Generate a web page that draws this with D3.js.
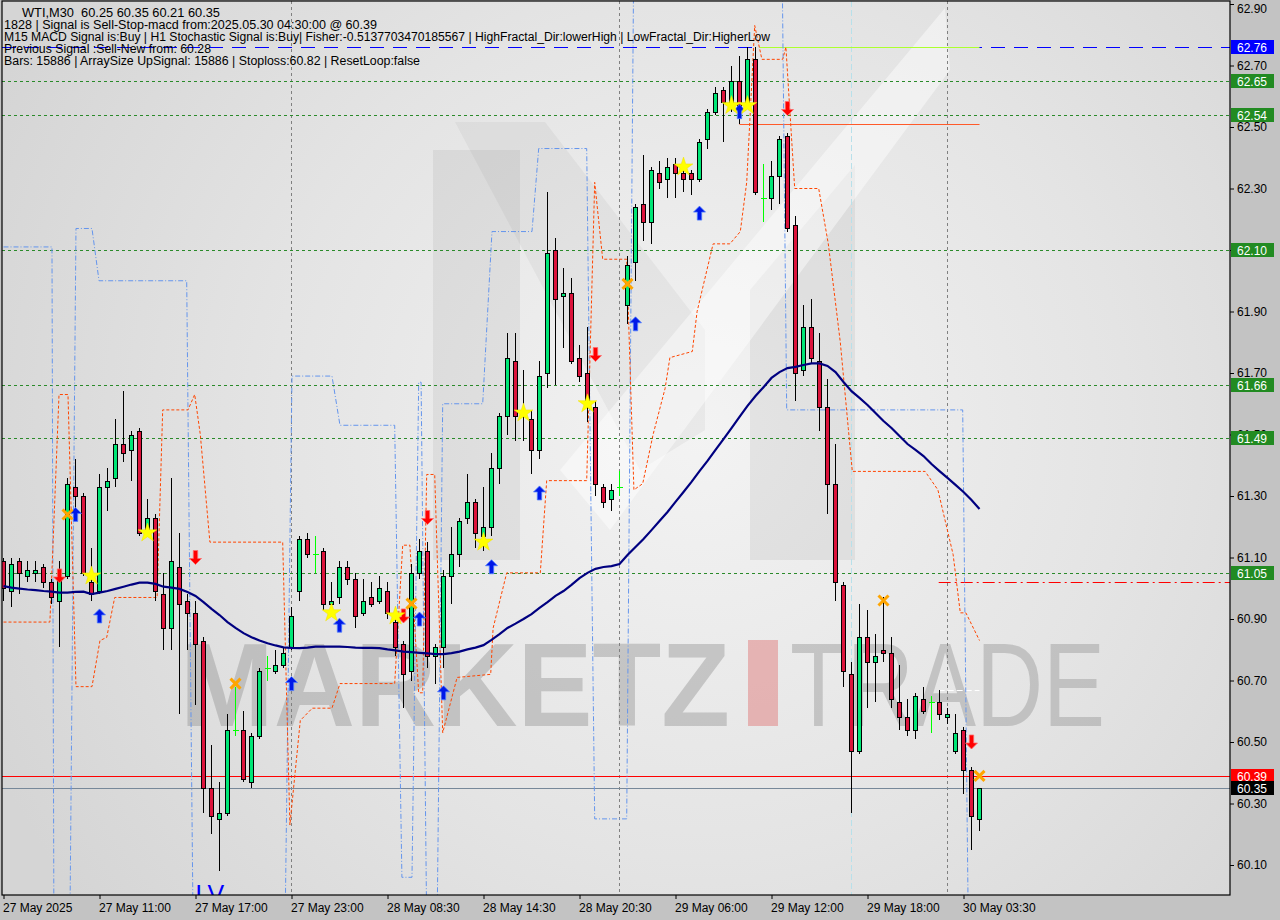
<!DOCTYPE html>
<html><head><meta charset="utf-8">
<script src="https://cdn.jsdelivr.net/npm/d3@7/dist/d3.min.js"></script>
<style>body{margin:0;background:#c3c3c3;}svg{display:block;}</style>
</head><body><svg id="c" width="1280" height="920"></svg>
<script>
// ---------------- DATA ----------------
const open  = [61.09,60.99,61.09,61.04,61.05,61.07,61.02,60.96,61.04,61.33,61.30,61.02,60.99,61.33,61.36,61.47,61.45,61.51,61.18,61.23,60.98,60.87,61.07,60.96,60.92,60.83,60.35,60.25,60.27,60.54,60.54,60.37,60.52,60.74,60.73,60.75,60.81,60.99,61.16,61.11,61.12,60.95,60.97,61.07,61.03,60.92,60.97,60.96,60.99,60.89,60.82,60.73,61.05,61.12,60.78,60.81,61.04,61.11,61.23,61.28,61.17,61.20,61.39,61.56,61.74,61.56,61.55,61.45,61.70,62.10,61.95,61.96,61.75,61.70,61.59,61.33,61.29,61.33,61.92,62.06,62.25,62.19,62.35,62.33,62.38,62.35,62.35,62.33,62.46,62.55,62.62,62.57,62.65,62.58,62.72,62.27,62.27,62.34,62.47,62.18,61.71,61.85,61.74,61.59,61.34,61.01,60.72,60.47,60.84,60.76,60.80,60.79,60.63,60.58,60.54,60.64,60.63,60.63,60.58,60.47,60.54,60.41,60.25];
const high  = [61.10,61.10,61.10,61.09,61.09,61.08,61.03,61.09,61.36,61.42,61.31,61.13,61.37,61.39,61.55,61.64,61.51,61.52,61.29,61.24,61.05,61.36,61.18,60.98,60.96,60.84,60.49,60.37,60.59,60.68,60.60,60.53,60.74,60.78,60.80,60.81,60.94,61.17,61.18,61.17,61.13,61.02,61.09,61.09,61.05,61.03,61.02,61.04,61.02,60.91,60.83,61.08,61.16,61.15,60.82,61.06,61.20,61.23,61.37,61.29,61.33,61.44,61.57,61.83,61.83,61.71,61.58,61.74,62.29,62.14,62.04,62.01,61.79,61.85,61.61,61.34,61.34,61.38,62.08,62.25,62.41,62.37,62.39,62.40,62.40,62.37,62.36,62.46,62.56,62.63,62.63,62.70,62.73,62.76,62.76,62.38,62.39,62.47,62.48,62.21,61.92,61.94,61.83,61.68,61.47,61.02,60.76,60.95,60.93,60.85,60.97,60.84,60.75,60.64,60.66,60.68,60.65,60.67,60.61,60.59,60.55,60.42,60.35];
const low   = [60.96,60.94,60.98,61.02,61.02,61.00,60.95,60.81,61.03,61.25,61.04,60.96,60.98,61.25,61.33,61.41,61.35,61.17,61.17,60.96,60.80,60.80,60.59,60.80,60.62,60.27,60.20,60.08,60.26,60.52,60.37,60.35,60.51,60.70,60.72,60.74,60.80,60.96,61.10,61.05,60.93,60.93,60.95,61.01,60.87,60.91,60.94,60.95,60.90,60.78,60.61,60.70,61.03,60.74,60.69,60.74,60.95,61.07,61.21,61.13,61.12,61.17,61.34,61.50,61.48,61.48,61.37,61.42,61.65,61.66,61.78,61.73,61.67,61.54,61.30,61.26,61.25,61.30,61.86,62.00,62.13,62.12,62.30,62.27,62.27,62.29,62.28,62.32,62.43,62.54,62.45,62.55,62.51,62.56,62.28,62.19,62.23,62.25,62.16,61.61,61.69,61.73,61.51,61.24,60.96,60.68,60.27,60.46,60.61,60.63,60.76,60.61,60.54,60.52,60.51,60.59,60.53,60.57,60.56,60.46,60.33,60.15,60.21];
const close = [61.00,61.08,61.05,61.06,61.06,61.02,60.97,61.03,61.34,61.30,61.05,60.98,61.33,61.35,61.47,61.44,61.50,61.18,61.23,60.99,60.87,61.09,60.95,60.92,60.82,60.35,60.26,60.27,60.54,60.54,60.38,60.52,60.73,60.74,60.75,60.79,60.91,61.16,61.11,61.11,60.95,60.96,61.07,61.03,60.91,60.96,60.95,61.00,60.92,60.81,60.72,61.05,61.12,60.78,60.81,61.04,61.11,61.22,61.28,61.18,61.20,61.39,61.56,61.75,61.56,61.58,61.45,61.69,62.09,61.94,61.96,61.74,61.69,61.59,61.34,61.28,61.32,61.33,62.05,62.24,62.19,62.36,62.32,62.37,62.35,62.33,62.33,62.45,62.55,62.61,62.58,62.65,62.56,62.72,62.29,62.27,62.34,62.46,62.17,61.70,61.85,61.75,61.59,61.34,61.02,60.73,60.47,60.84,60.76,60.78,60.79,60.64,60.58,60.54,60.65,60.60,60.63,60.59,60.59,60.53,60.41,60.26,60.35];
const maValues = [61.007,61.002,60.999,60.996,60.994,60.991,60.989,60.986,60.986,60.988,
 60.989,60.981,60.986,60.991,60.998,61.005,61.012,61.018,61.018,61.014,
 61.005,61.002,60.998,60.988,60.975,60.955,60.933,60.913,60.890,60.871,
 60.854,60.841,60.830,60.821,60.814,60.808,60.806,60.805,60.807,60.810,
 60.810,60.810,60.810,60.809,60.807,60.806,60.806,60.805,60.801,60.798,
 60.794,60.792,60.790,60.788,60.786,60.786,60.789,60.794,60.801,60.807,
 60.815,60.832,60.851,60.871,60.885,60.900,60.916,60.936,60.955,60.975,
 60.991,61.011,61.033,61.050,61.063,61.069,61.072,61.079,61.108,61.134,
 61.160,61.189,61.219,61.248,61.281,61.313,61.346,61.381,61.414,61.450,
 61.485,61.521,61.557,61.593,61.625,61.654,61.684,61.703,61.716,61.720,
 61.726,61.731,61.731,61.723,61.703,61.671,61.641,61.619,61.596,61.570,
 61.544,61.521,61.495,61.469,61.450,61.430,61.404,61.381,61.359,61.336,
 61.313,61.287,61.258];
// step channel lines: [bar index, price]
const upperBand = [[0,62.11],[6.06,62.11],[6.3,59.9],[8.3,59.9],[9.06,62.17],[11.06,62.17],[11.94,62.00],[22.9,62.00],[23.7,59.9],[35.2,59.9],[36.06,61.69],[41.06,61.69],[42.06,61.53],[48.9,61.53],[49.8,60.06],[51.06,60.06],[51.9,61.67],[52.2,61.67],[52.9,59.9],[54.2,59.9],[54.9,61.60],[59.9,61.60],[61.06,62.16],[66.06,62.16],[66.9,62.43],[72.9,62.43],[73.9,60.25],[77.9,60.25],[78.8,63.1],[97.3,63.1],[97.9,61.58],[119.9,61.58],[120.6,59.9],[122,59.9]];
const lowerBand = [[0,60.89],[5.8,60.89],[6.94,61.63],[8.06,61.63],[9.06,60.68],[11.06,60.68],[12.06,60.83],[12.9,60.84],[13.9,60.97],[19.2,60.97],[19.9,61.58],[23.06,61.58],[23.9,61.63],[24.6,61.50],[25.8,61.15],[34.9,61.15],[35.8,60.23],[37.1,60.57],[38.6,60.61],[41.06,60.61],[42.06,60.69],[48.9,60.69],[49.9,61.14],[50.8,61.14],[51.9,60.66],[52.4,60.66],[52.9,61.37],[53.9,61.37],[54.9,60.53],[56.7,60.71],[60.9,60.72],[61.2,60.87],[62.9,61.05],[67.1,61.05],[67.9,61.35],[72.9,61.35],[73.9,62.32],[74.9,62.07],[77.9,62.07],[78.8,61.32],[79.9,61.34],[81.2,61.50],[82.7,61.65],[83.3,61.75],[86.1,61.77],[86.7,61.90],[88.7,62.12],[90.8,62.12],[92.1,62.16],[92.9,62.32],[93.9,62.83],[94.8,62.72],[97.4,62.72],[97.8,62.76],[98.9,62.30],[101.9,62.30],[103.1,62.12],[104.6,61.80],[105.6,61.52],[106.1,61.38],[115.2,61.38],[116.8,61.32],[118.7,61.11],[119.6,60.92],[120.3,60.92],[122,60.83]];
const buyArrows  = [[9,61.24],[12,60.91],[36,60.69],[42,60.88],[52,60.90],[55,60.66],[61,61.07],[67,61.31],[79,61.86],[87,62.22],[92,62.55]];
const sellArrows = [[7,61.04],[24,61.10],[50,60.91],[53,61.23],[74,61.76],[98,62.56],[121,60.50]];
const stars   = [[11,61.04],[18,61.18],[41,60.92],[49,60.91],[60,61.15],[65,61.57],[73,61.60],[85,62.37],[91,62.57],[93,62.57]];
const crosses = [[8,61.24],[29,60.69],[51,60.95],[78,61.99],[110,60.96],[122,60.39]];
const levelPrices = [62.65,62.54,62.10,61.66,61.49,61.05];
const priceTicks = [62.90,62.70,62.50,62.30,62.10,61.90,61.70,61.50,61.30,61.10,60.90,60.70,60.50,60.30,60.10];
const timeTickIndex = [0,12,24,36,48,60,72,84,96,108,120];
const timeTickLabels = ["27 May 2025","27 May 11:00","27 May 17:00","27 May 23:00","28 May 08:30","28 May 14:30","28 May 20:30","29 May 06:00","29 May 12:00","29 May 18:00","30 May 03:30"];
const sessionLines = [36,77,118];
const headerLines = ["WTI,M30  60.25 60.35 60.21 60.35",
 "1828 | Signal is Sell-Stop-macd from:2025.05.30 04:30:00 @ 60.39",
 "M15 MACD Signal is:Buy | H1 Stochastic Signal is:Buy| Fisher:-0.5137703470185567 | HighFractal_Dir:lowerHigh | LowFractal_Dir:HigherLow",
 "Previous Signal :Sell-New from: 60.28",
 "Bars: 15886 | ArraySize UpSignal: 15886 | Stoploss:60.82 | ResetLoop:false"];
const priceBoxes = [[62.76,"#0000ff"],[62.65,"#228b22"],[62.54,"#228b22"],[62.10,"#228b22"],[61.66,"#228b22"],[61.49,"#228b22"],[61.05,"#228b22"],[60.39,"#ff0000"],[60.35,"#000000"]];

// ---------------- LAYOUT ----------------
const W=1280,H=920, P={l:2,r:1230,t:1,b:895};
const FONT="Liberation Sans, Arial, sans-serif";
const x=d3.scaleLinear().domain([0,122]).range([3.5,979.5]);
const y=d3.scaleLinear().domain([60.10,62.90]).range([865,4]);
const svg=d3.select("#c");
const defs=svg.append("defs");
const rg=defs.append("radialGradient").attr("id","bg").attr("gradientUnits","userSpaceOnUse")
  .attr("cx",700).attr("cy",430).attr("r",780);
rg.append("stop").attr("offset",0).attr("stop-color","#f3f3f3");
rg.append("stop").attr("offset",0.55).attr("stop-color","#e4e4e4");
rg.append("stop").attr("offset",1).attr("stop-color","#d5d5d5");
defs.append("clipPath").attr("id","clip").append("rect")
  .attr("x",P.l).attr("y",P.t).attr("width",P.r-P.l).attr("height",P.b-P.t);

svg.append("rect").attr("width",W).attr("height",H).attr("fill","#c3c3c3");
svg.append("rect").attr("x",P.l).attr("y",P.t).attr("width",P.r-P.l).attr("height",P.b-P.t).attr("fill","url(#bg)");
const g=svg.append("g").attr("clip-path","url(#clip)");

// watermark
const wm=g.append("g");
wm.append("polygon").attr("points","433,150 520,150 520,560 433,560").attr("fill","rgba(110,110,110,0.10)");
wm.append("polygon").attr("points","455,122 545,122 705,330 705,430 640,470").attr("fill","rgba(110,110,110,0.08)");
wm.append("polygon").attr("points","750,290 855,165 855,560 750,560").attr("fill","rgba(110,110,110,0.10)");
wm.append("polygon").attr("points","560,470 945,8 950,70 610,530").attr("fill","rgba(255,255,255,0.45)");
wm.append("text").attr("x",180).attr("y",726).attr("font-family",FONT).attr("font-size",118).attr("font-weight","bold")
  .attr("fill","rgba(150,150,150,0.45)").attr("textLength",550).attr("lengthAdjust","spacingAndGlyphs").text("MARKETZ");
wm.append("rect").attr("x",748).attr("y",640).attr("width",30).attr("height",86).attr("fill","rgba(220,90,90,0.38)");
wm.append("text").attr("x",790).attr("y",726).attr("font-family",FONT).attr("font-size",118)
  .attr("fill","rgba(150,150,150,0.45)").attr("textLength",315).attr("lengthAdjust","spacingAndGlyphs").text("TRADE");

// vertical separators
g.selectAll(".sep").data(sessionLines).join("line")
  .attr("x1",d=>x(d)).attr("x2",d=>x(d)).attr("y1",P.t).attr("y2",P.b)
  .attr("stroke","#808080").attr("stroke-dasharray","3,3");
g.append("line").attr("x1",x(106)).attr("x2",x(106)).attr("y1",P.t).attr("y2",P.b)
  .attr("stroke","#b8e0ea").attr("stroke-dasharray","6,3");

// horizontal levels
g.selectAll(".lvl").data(levelPrices).join("line")
  .attr("x1",P.l).attr("x2",P.r).attr("y1",d=>Math.round(y(d))+0.5).attr("y2",d=>Math.round(y(d))+0.5)
  .attr("stroke","#2a8a2a").attr("stroke-dasharray","3,3");
g.append("line").attr("x1",P.l).attr("x2",P.r).attr("y1",Math.round(y(62.76))+0.5).attr("y2",Math.round(y(62.76))+0.5)
  .attr("stroke","#0000ff").attr("stroke-dasharray","14,9");
g.append("line").attr("x1",x(94.5)).attr("x2",x(122)).attr("y1",Math.round(y(62.76))+0.5).attr("y2",Math.round(y(62.76))+0.5)
  .attr("stroke","#adff2f");
g.append("line").attr("x1",x(92)).attr("x2",x(122)).attr("y1",Math.round(y(62.51))+0.5).attr("y2",Math.round(y(62.51))+0.5)
  .attr("stroke","#ff5a2a");
g.append("line").attr("x1",x(116.9)).attr("x2",P.r).attr("y1",Math.round(y(61.02))+0.5).attr("y2",Math.round(y(61.02))+0.5)
  .attr("stroke","#ff0000").attr("stroke-dasharray","12,4,2,4");
g.append("line").attr("x1",x(116.9)).attr("x2",x(122)).attr("y1",Math.round(y(60.67))+0.5).attr("y2",Math.round(y(60.67))+0.5)
  .attr("stroke","#ffffff").attr("stroke-dasharray","6,3");
g.append("line").attr("x1",P.l).attr("x2",P.r).attr("y1",Math.round(y(60.39))+0.5).attr("y2",Math.round(y(60.39))+0.5)
  .attr("stroke","#ff0000");
g.append("line").attr("x1",P.l).attr("x2",P.r).attr("y1",Math.round(y(60.35))+0.5).attr("y2",Math.round(y(60.35))+0.5)
  .attr("stroke","#778899");

// channel lines
const bandLine=d3.line().x(d=>x(d[0])).y(d=>y(d[1]));
g.append("path").attr("d",bandLine(upperBand)).attr("fill","none").attr("stroke","#6495ed")
  .attr("stroke-width",1).attr("stroke-dasharray","5,2,1,2");
g.append("path").attr("d",bandLine(lowerBand)).attr("fill","none").attr("stroke","#ff4500")
  .attr("stroke-width",1).attr("stroke-dasharray","3,2");

// candles
const idx=d3.range(open.length);
const cg=g.append("g").attr("shape-rendering","crispEdges");
idx.forEach(i=>{
  const cx=x(i), o=open[i], c=close[i];
  const doji = o===c;
  cg.append("line").attr("x1",cx).attr("x2",cx).attr("y1",y(high[i])).attr("y2",y(low[i]))
    .attr("stroke",doji?"#00ff00":"#000");
  if(doji){
    cg.append("line").attr("x1",cx-3).attr("x2",cx+3).attr("y1",Math.round(y(o))+0.5).attr("y2",Math.round(y(o))+0.5).attr("stroke","#00ff00");
  } else {
    const top=Math.round(y(Math.max(o,c)))+0.5, bot=Math.round(y(Math.min(o,c)))+0.5;
    cg.append("rect").attr("x",cx-2).attr("width",4).attr("y",top).attr("height",Math.max(1,bot-top))
      .attr("fill",c>o?"#00e676":"#dc143c").attr("stroke","#000");
  }
});

// moving average
g.append("path").attr("d",d3.line().x((d,i)=>x(i)).y(d=>y(d))(maValues))
  .attr("fill","none").attr("stroke","#000080").attr("stroke-width",2.2);

// markers
const up="M0,-7 L6,-1 L2.2,-1 L2.2,7 L-2.2,7 L-2.2,-1 L-6,-1 Z";
g.selectAll(".buy").data(buyArrows).join("path").attr("d",up)
  .attr("transform",d=>`translate(${x(d[0])},${y(d[1])})`).attr("fill","#0018e8").attr("stroke","#4f7dff").attr("stroke-width",0.8);
g.selectAll(".sell").data(sellArrows).join("path").attr("d",up)
  .attr("transform",d=>`translate(${x(d[0])},${y(d[1])}) rotate(180)`).attr("fill","#ff0000").attr("stroke","#ff6a6a").attr("stroke-width",0.8);
g.selectAll(".star").data(stars).join("path").attr("d",d3.symbol().type(d3.symbolStar).size(110))
  .attr("transform",d=>`translate(${x(d[0])},${y(d[1])})`).attr("fill","#ffff00").attr("stroke","#f0e000").attr("stroke-width",0.5);
g.selectAll(".x").data(crosses).join("path").attr("d","M-5,-5 L5,5 M-5,5 L5,-5")
  .attr("transform",d=>`translate(${x(d[0])},${y(d[1])})`).attr("stroke","#ffa500").attr("stroke-width",3).attr("fill","none");
g.append("text").attr("x",x(24)).attr("y",903).attr("font-family",FONT).attr("font-size",25).attr("fill","#0000ff").text("LV");

// header text
svg.append("g").selectAll("text").data(headerLines).join("text")
  .attr("x",(d,i)=>i===0?22:4).attr("y",(d,i)=>17+i*12).attr("font-family",FONT).attr("font-size",12)
  .attr("fill","#000").style("white-space","pre")
  .attr("textLength",(d,i)=>[198,373,766,207,416][i]).attr("lengthAdjust","spacingAndGlyphs").text(d=>d);

// axes
const ra=svg.append("g").attr("transform",`translate(${P.r},0)`)
  .call(d3.axisRight(y).tickValues(priceTicks).tickFormat(d3.format(".2f")).tickSize(4).tickPadding(3));
ra.select(".domain").remove();
ra.selectAll("text").attr("font-family",FONT).attr("font-size",12).attr("fill","#000");
ra.selectAll(".tick").filter(d=>d===62.90).select("text").attr("dy","0.7em");
ra.selectAll("line").attr("stroke","#000");
const ba=svg.append("g").attr("transform",`translate(0,${P.b})`)
  .call(d3.axisBottom(x).tickValues(timeTickIndex).tickFormat((d,i)=>timeTickLabels[i]).tickSize(4).tickPadding(4));
ba.select(".domain").remove();
ba.selectAll("text").attr("font-family",FONT).attr("font-size",12).attr("fill","#000").attr("text-anchor","start").attr("dx",-1);
ba.selectAll("line").attr("stroke","#000");

// price boxes
const pb=svg.append("g").selectAll("g").data(priceBoxes).join("g")
  .attr("transform",d=>`translate(${P.r+1},${Math.round(y(d[0]))})`);
pb.append("rect").attr("x",0).attr("y",-7).attr("width",43).attr("height",14).attr("fill",d=>d[1]);
pb.append("text").attr("x",6).attr("y",5).attr("font-family",FONT).attr("font-size",12).attr("fill","#fff")
  .text(d=>d[0].toFixed(2));

// frame
svg.append("rect").attr("x",P.l).attr("y",P.t).attr("width",P.r-P.l).attr("height",P.b-P.t)
  .attr("fill","none").attr("stroke","#000").attr("stroke-width",1.2);
</script></body></html>
